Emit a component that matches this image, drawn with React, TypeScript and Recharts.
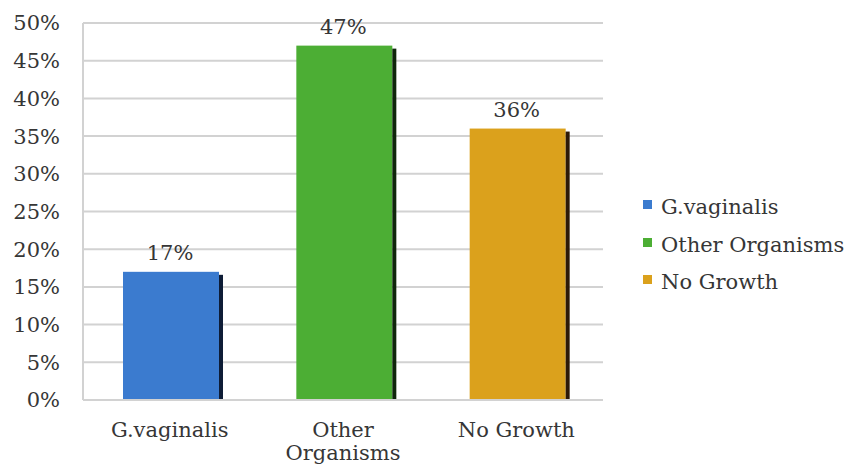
import { BarChart, Bar, XAxis, YAxis, CartesianGrid, LabelList, Cell } from 'recharts';

const categories = ['G.vaginalis', 'Other Organisms', 'No Growth'];
const tickLines = [['G.vaginalis'], ['Other', 'Organisms'], ['No Growth']];
const percentages = [17, 47, 36];
const yTicks = [0, 5, 10, 15, 20, 25, 30, 35, 40, 45, 50];
const barColors = ['#3B7BCF', '#4CAE34', '#DBA11C'];
const edgeColors = ['#0e1c36', '#0f260b', '#2c1907'];

const FONT = '"DejaVu Serif", "Liberation Serif", serif';
const TEXT = '#363636';
const GRID = '#d2d2d2';

const data = categories.map((name, i) => ({ name, value: percentages[i] }));

// bar face plus a thin dark edge on its right side
function ShadedBar(props: any) {
  const { x, y, width, height, index } = props;
  const bx = x + 3;
  return (
    <g>
      <rect x={bx} y={y} width={width - 4} height={height} fill={barColors[index]} />
      <rect x={bx + width - 4} y={y + 3} width={4} height={height - 3} fill={edgeColors[index]} />
    </g>
  );
}

function CategoryTick(props: any) {
  const { x, y, payload } = props;
  const lines = tickLines[payload.index] ?? [payload.value];
  return (
    <g>
      {lines.map((line: string, i: number) => (
        <text
          key={i}
          x={x}
          y={y + 37 + i * 23}
          textAnchor="middle"
          fill={TEXT}
          fontSize={21}
          fontFamily={FONT}
        >
          {line}
        </text>
      ))}
    </g>
  );
}

export default function App() {
  return (
    <div style={{ position: 'absolute', left: 0, top: 0, width: 850, height: 466, background: '#fff' }}>
      <BarChart
        width={850}
        height={466}
        data={data}
        margin={{ top: 23, right: 247, bottom: 0, left: 0 }}
        barSize={100}
      >
        <CartesianGrid vertical={false} stroke={GRID} strokeWidth={2} />
        <XAxis
          dataKey="name"
          height={66}
          tickLine={false}
          tickSize={0}
          tickMargin={0}
          axisLine={{ stroke: GRID, strokeWidth: 2 }}
          tick={<CategoryTick />}
          interval={0}
        />
        <YAxis
          width={83}
          domain={[0, 50]}
          ticks={yTicks}
          tickFormatter={(v) => `${v}%`}
          tickLine={false}
          tickSize={0}
          tickMargin={23}
          axisLine={{ stroke: GRID, strokeWidth: 2 }}
          tick={{ fill: TEXT, fontSize: 21, fontFamily: FONT }}
        />
        <Bar dataKey="value" shape={<ShadedBar />} isAnimationActive={false}>
          {data.map((d, i) => (
            <Cell key={d.name} fill={barColors[i]} />
          ))}
          <LabelList
            dataKey="value"
            position="top"
            offset={12}
            formatter={(v: any) => `${v}%`}
            fill={TEXT}
            fontSize={21}
            fontFamily={FONT}
          />
        </Bar>
      </BarChart>
      <div style={{ position: 'absolute', left: 643, top: 189, fontFamily: FONT, fontSize: 21, color: TEXT }}>
        {categories.map((name, i) => (
          <div key={name} style={{ display: 'flex', alignItems: 'center', height: 37.5, lineHeight: '27px' }}>
            <span
              style={{
                display: 'inline-block',
                width: 9,
                height: 9,
                marginRight: 9,
                marginTop: -6,
                background: barColors[i],
              }}
            />
            <span>{name}</span>
          </div>
        ))}
      </div>
    </div>
  );
}
